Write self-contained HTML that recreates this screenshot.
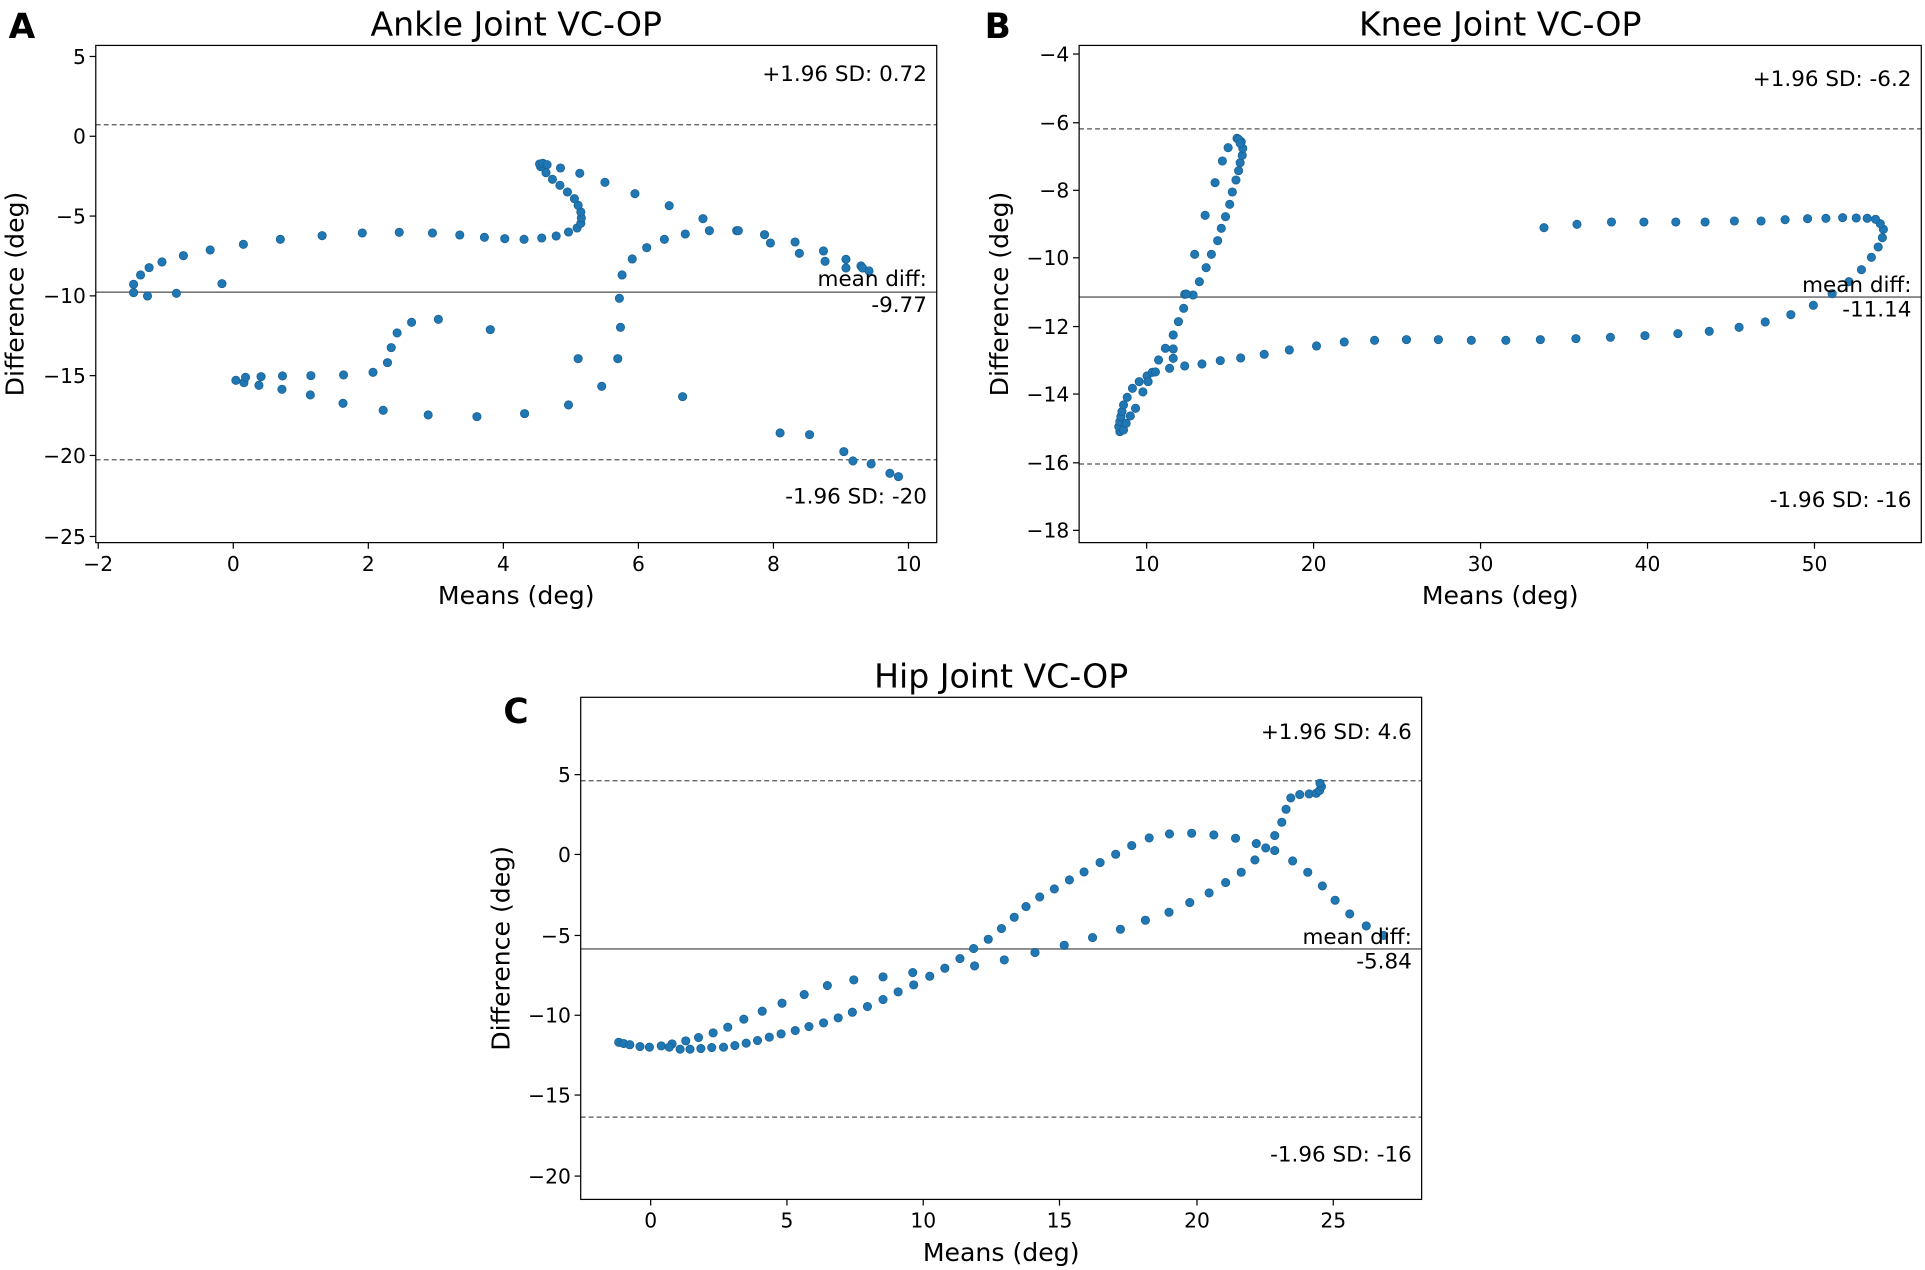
<!DOCTYPE html>
<html><head><meta charset="utf-8"><style>
html,body{margin:0;padding:0;background:#fff}
svg{display:block}
text{font-family:"DejaVu Sans","Liberation Sans",sans-serif;fill:#000}
</style></head><body>
<svg id="s" width="1925" height="1270" viewBox="0 0 1568 1034.5" xmlns="http://www.w3.org/2000/svg">
<rect width="1568" height="1035" fill="#fff"/>
<g id="g"></g>
<text x="7" y="31" font-size="28" font-weight="bold" font-family="Liberation Sans">A</text>
<text x="802" y="31" font-size="28" font-weight="bold" font-family="Liberation Sans">B</text>
<text x="410" y="589" font-size="28" font-weight="bold" font-family="Liberation Sans">C</text>
</svg>
<script>
var NS="http://www.w3.org/2000/svg",G=document.getElementById('g');
function el(t,a,txt){var e=document.createElementNS(NS,t);for(var k in a)e.setAttribute(k,a[k]);if(txt!=null)e.textContent=txt;G.appendChild(e);return e;}
function panel(o){
 var L=o.l,R=o.r,T=o.t,B=o.b;
 o.hl.forEach(function(h){el('line',{x1:L,x2:R,y1:h[0],y2:h[0],stroke:h[1]?'#555':'#777','stroke-width':h[1]?1:1.3,'stroke-dasharray':h[1]?'4,2.5':''});});
 o.pts.forEach(function(p){el('circle',{cx:p[0],cy:p[1],r:3.4,fill:'#1f77b4',stroke:'#1a5f92','stroke-width':0.6});});
 el('rect',{x:L,y:T,width:R-L,height:B-T,fill:'none',stroke:'#000','stroke-width':1});
 o.yt.forEach(function(t){el('line',{x1:L-5,x2:L,y1:t[0],y2:t[0],stroke:'#000'});el('text',{x:L-8,y:t[0]+6,'font-size':16.5,'text-anchor':'end'},t[1]);});
 o.xt.forEach(function(t){el('line',{x1:t[0],x2:t[0],y1:B,y2:B+5,stroke:'#000'});el('text',{x:t[0],y:B+23,'font-size':16.5,'text-anchor':'middle'},t[1]);});
 el('text',{x:(L+R)/2,y:T-8,'font-size':27,'text-anchor':'middle'},o.title);
 el('text',{x:(L+R)/2,y:B+50,'font-size':20.5,'text-anchor':'middle'},'Means (deg)');
 var cy=(T+B)/2;el('text',{x:0,y:0,'font-size':20.5,'text-anchor':'middle',transform:'translate('+o.yl+','+cy+') rotate(-90)'},'Difference (deg)');
 o.tx.forEach(function(t){el('text',{x:R-8,y:t[0],'font-size':17.5,'text-anchor':'end'},t[1]);});
}
function tr(arr,ox,sx,oy,sy){return arr.map(function(p){return [ox+p[0]*sx,oy+p[1]*sy];});}
var A=tr([[72,433],[72,458],[98,468],[152,460],[85,405],[101,383],[125,366],[165,347],[215,330],[277,313],[346,298],[424,287],[499,279],[568,277],[630,279],[681,285],[727,292],[765,296],[801,298],[834,294],[861,288],[884,276],[900,264],[907,250],[908,234],[907,216],[902,196],[895,176],[882,156],[868,136],[854,118],[842,98],[832,80],[830,72],[836,70],[844,74],[869,84],[905,100],[952,127],[1008,161],[1072,197],[1135,236],[1147,272],[1198,272],[1201,272],[1250,284],[1261,309],[1307,306],[1315,340],[1360,333],[1363,364],[1402,358],[1402,384],[1430,378],[1433,384],[1445,393],[237,431],
[1102,282],[1063,298],[1030,323],[1003,357],[984,405],[979,475],[981,562],[976,656],[946,739],[884,795],[802,821],[713,830],[622,825],[538,811],[463,790],[402,765],[349,748],[306,736],[278,728],[263,721],[281,712],[310,710],[350,708],[403,707],[464,705],[519,697],[546,668],[553,623],[564,579],[591,547],[641,538],[738,569],[902,656],[1097,770],[1279,879],[1334,884],[1398,935],[1415,963],[1449,972],[1484,1000],[1500,1010]],77.38,0.4363,114.03,0.2715);
panel({l:78,r:763,t:37,b:442,title:'Ankle Joint VC-OP',yl:19,pts:A,
 hl:[[101.6,1],[238,0],[374.5,1]],
 yt:[[46,'5'],[111,'0'],[176,'\u22125'],[241,'\u221210'],[306,'\u221215'],[371,'\u221220'],[437,'\u221225']],
 xt:[[80,'\u22122'],[190,'0'],[300,'2'],[410,'4'],[520,'6'],[630,'8'],[740,'10']],
 tx:[[66,'+1.96 SD: 0.72'],[233,'mean diff:'],[254,'-9.77'],[410,'-1.96 SD: -20']]});
var Bp=tr([[38,965],[36,950],[38,935],[40,920],[42,905],[45,885],[52,862],[62,835],[75,815],[90,798],[100,787],[112,750],[125,715],[140,675],[150,635],[160,595],[162,553],[178,555],[190,515],[203,473],[213,433],[225,392],[232,355],[240,320],[248,283],[253,246],[260,210],[265,182],[268,158],[272,136],[273,115],[270,95],[262,85],[265,88],[268,100],[245,113],[234,153],[220,218],[201,316],[181,433],[165,552],
[45,960],[50,940],[58,918],[68,895],[82,846],[92,815],[106,786],[133,775],[140,745],[140,717],[162,768],[195,762],[230,752],[269,744],[314,733],[362,720],[414,708],[467,696],[525,691],[586,689],[647,689],[710,691],[776,691],[842,689],[910,686],[976,682],[1042,677],[1105,671],[1165,664],[1222,652],[1272,636],[1321,614],[1364,586],[1400,551],[1432,515],[1456,479],[1475,442],[1488,411],[1496,383],[1498,358],[1492,341],[1483,328],[1467,325],[1446,324],[1420,323],[1388,325],[1353,326],[1310,329],[1264,333],[1213,333],[1157,336],[1101,336],[1040,336],[978,336],[912,343],[849,353]],896.0,0.4260,89.6,0.2715);
panel({l:879,r:1565,t:37,b:442,title:'Knee Joint VC-OP',yl:821,pts:Bp,
 hl:[[105,1],[242,0],[378,1]],
 yt:[[44,'\u22124'],[100,'\u22126'],[155,'\u22128'],[210,'\u221210'],[266,'\u221212'],[321,'\u221214'],[377,'\u221216'],[432,'\u221218']],
 xt:[[934,'10'],[1070,'20'],[1206,'30'],[1342,'40'],[1478,'50']],
 tx:[[70,'+1.96 SD: -6.2'],[238,'mean diff:'],[258,'-11.14'],[413,'-1.96 SD: -16']]});
var C=tr([[0,860],[20,862],[45,858],[68,852],[97,843],[124,833],[155,819],[186,802],[220,778],[259,754],[301,730],[348,704],[397,677],[453,660],[515,651],[578,638],[614,649],[646,625],[678,596],[707,566],[738,538],[766,506],[793,472],[818,440],[847,411],[878,387],[910,360],[941,336],[975,308],[1008,283],[1042,257],[1079,234],[1122,222],[1169,220],[1216,225],[1262,235],[1306,251],[1345,272],[1383,303],[1415,337],[1446,378],[1473,421],[1504,462],[1539,498],
[62,862],[85,868],[106,868],[129,866],[152,863],[177,862],[201,857],[225,850],[249,842],[274,832],[299,822],[329,812],[358,800],[389,789],[420,774],[450,757],[482,740],[515,719],[547,696],[580,675],[709,618],[772,600],[837,578],[899,556],[959,533],[1018,508],[1071,481],[1121,457],[1165,428],[1206,399],[1241,368],[1274,337],[1303,300],[1326,264],[1345,227],[1360,187],[1369,148],[1379,114],[1398,104],[1418,102],[1433,100],[1440,92],[1444,80],[1441,70]],521.3,0.3844,619.0,0.2715).concat([[504,849],[508,850],[513,851],[1127,762]]);
panel({l:473,r:1158,t:568,b:977,title:'Hip Joint VC-OP',yl:415,pts:C,
 hl:[[636,1],[773,0],[910,1]],
 yt:[[631,'5'],[696,'0'],[762,'\u22125'],[827,'\u221210'],[892,'\u221215'],[958,'\u221220']],
 xt:[[530,'0'],[641,'5'],[752,'10'],[863,'15'],[975,'20'],[1086,'25']],
 tx:[[602,'+1.96 SD: 4.6'],[769,'mean diff:'],[789,'-5.84'],[946,'-1.96 SD: -16']]});
</script>
</body></html>
